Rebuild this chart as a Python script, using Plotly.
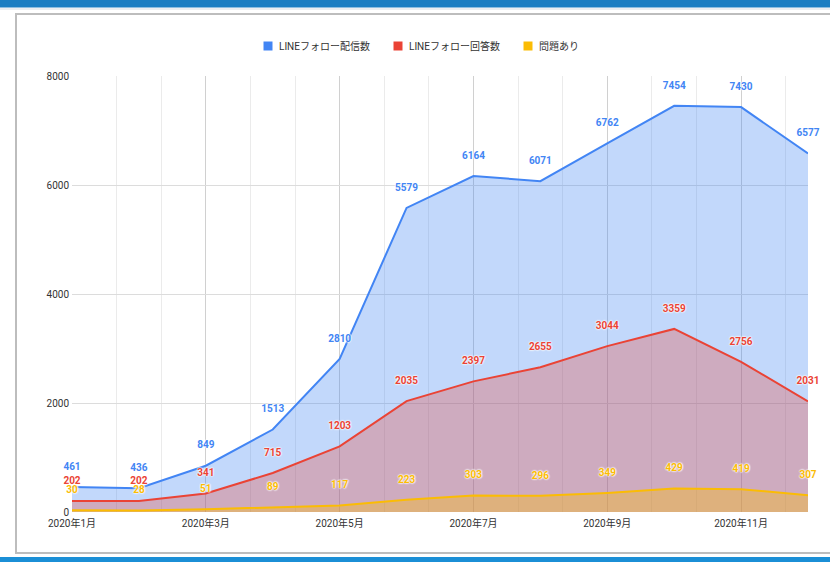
import plotly.graph_objects as go

months = ["2020年1月", "2020年2月", "2020年3月", "2020年4月", "2020年5月", "2020年6月",
          "2020年7月", "2020年8月", "2020年9月", "2020年10月", "2020年11月", "2020年12月"]
sent = [461, 436, 849, 1513, 2810, 5579, 6164, 6071, 6762, 7454, 7430, 6577]
answered = [202, 202, 341, 715, 1203, 2035, 2397, 2655, 3044, 3359, 2756, 2031]
problem = [30, 28, 51, 89, 117, 223, 303, 296, 349, 429, 419, 307]
series_names = ["LINEフォロー配信数", "LINEフォロー回答数", "問題あり"]
tick_labels = ["2020年1月", "2020年3月", "2020年5月", "2020年7月", "2020年9月", "2020年11月"]
y_ticks = [0, 2000, 4000, 6000, 8000]

xs = list(range(len(months)))
tick_pos = [months.index(t) for t in tick_labels]

colors = ["#4285F4", "#EA4335", "#FBBC04"]
fills = ["rgba(66,133,244,0.32)", "rgba(234,67,53,0.30)", "rgba(251,188,4,0.35)"]
font_family = "Roboto, Arial, 'Noto Sans CJK JP', sans-serif"

W, H = 830, 562
L, R, T, B = 72, 22, 76, 50
pw, ph = W - L - R, H - T - B

def px(X):
    return (X - L) / pw

def py(Y):
    return (H - B - Y) / ph

fig = go.Figure()
for name, vals, c, f in zip(series_names, [sent, answered, problem], colors, fills):
    fig.add_trace(go.Scatter(
        x=xs, y=vals, mode="lines+markers+text", name=name,
        line=dict(color=c, width=2), fill="tozeroy", fillcolor=f,
        marker=dict(size=22, color="rgba(0,0,0,0)"),
        text=[str(v) for v in vals], textposition="top center",
        textfont=dict(color=c, size=10, family=font_family, weight="bold",
                      shadow="0px 0px 2px white, 0px 0px 2px white, 0px 0px 2px white"),
        cliponaxis=False, showlegend=False, hoverinfo="x+y"))

shapes = [
    dict(type="rect", xref="paper", yref="paper", x0=px(-5), x1=px(W + 5), y0=py(-5), y1=py(7.5),
         fillcolor="#1B7EC2", line=dict(width=0), layer="above"),
    dict(type="line", xref="paper", yref="paper", x0=px(0), x1=px(W), y0=py(9), y1=py(9),
         line=dict(color="#D8DDE2", width=1)),
    dict(type="rect", xref="paper", yref="paper", x0=px(16), x1=px(W + 20), y0=py(14), y1=py(553),
         fillcolor="rgba(0,0,0,0)", line=dict(color="#BDBDBD", width=2), layer="below"),
    dict(type="rect", xref="paper", yref="paper", x0=px(-5), x1=px(W + 5), y0=py(557), y1=py(H + 5),
         fillcolor="#1B8FD6", line=dict(width=0)),
]

# manual legend (square swatch + label), centered above the plot
legend_sq_x = [268, 398, 528]
annotations = []
for name, c, sx in zip(series_names, colors, legend_sq_x):
    shapes.append(dict(type="rect", xref="paper", yref="paper",
                       x0=px(sx - 4.5), x1=px(sx + 4.5), y0=py(50.5), y1=py(41.5),
                       fillcolor=c, line=dict(width=0)))
    annotations.append(dict(xref="paper", yref="paper", x=px(sx + 9), y=py(46),
                            xanchor="left", yanchor="middle", showarrow=False, text=name,
                            font=dict(size=10, color="#333", family=font_family)))

fig.update_layout(
    width=W, height=H, margin=dict(l=L, r=R, t=T, b=B, autoexpand=False),
    paper_bgcolor="white", plot_bgcolor="white",
    font=dict(family=font_family, size=10, color="#222"),
    shapes=shapes, annotations=annotations, showlegend=False,
    xaxis=dict(range=[0, len(months) - 1], tickmode="array", tickvals=tick_pos, ticktext=tick_labels,
               showgrid=True, gridcolor="#D0D0D0", gridwidth=1, zeroline=False, showline=False,
               ticks="", tickfont=dict(size=10, color="#333"), automargin=False, ticklabelstandoff=4,
               minor=dict(dtick=2 / 3, tick0=0, showgrid=True, gridcolor="#EBEBEB", gridwidth=1)),
    yaxis=dict(range=[0, 8000], tickmode="array", tickvals=y_ticks, automargin=False,
               showgrid=True, gridcolor="#DCDCDC", gridwidth=1, zeroline=False, showline=False,
               ticks="", tickfont=dict(size=10, color="#333"), ticklabelstandoff=2),
)

fig.write_html("out.html", config={"displayModeBar": False},
               post_script="document.body.style.margin='0px';")
